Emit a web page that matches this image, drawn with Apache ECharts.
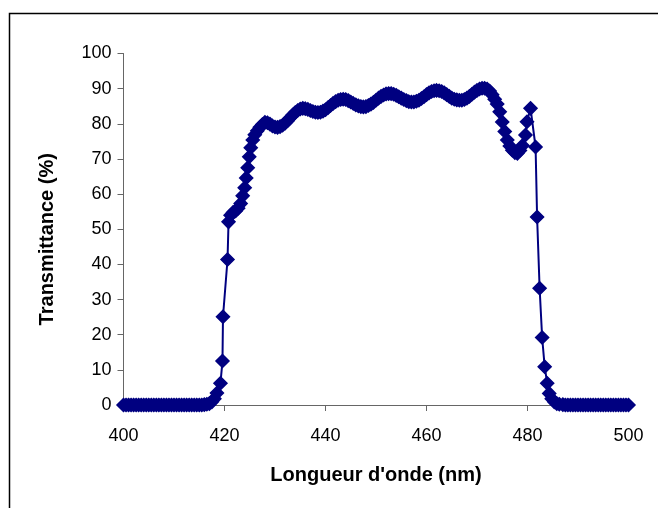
<!DOCTYPE html>
<html>
<head>
<meta charset="utf-8">
<script src="https://cdn.jsdelivr.net/npm/echarts@6/dist/echarts.min.js"></script>
<style>
  html, body { margin: 0; padding: 0; background: #fff; }
  #spectre { width: 658px; height: 508px; }
</style>
</head>
<body>
<div id="spectre"></div>
<script>
// longueur d'onde (nm)
var wavelengths = [
  400, 400.5, 401, 401.5, 402, 402.5, 403, 403.5, 404, 404.5,
  405, 405.5, 406, 406.5, 407, 407.5, 408, 408.5, 409, 409.5,
  410, 410.5, 411, 411.5, 412, 412.5, 413, 413.5, 414, 414.5,
  415, 415.5, 416,
  416.5, 417, 417.5, 418, 418.5, 419.2, 419.6, 419.7, 420.6, 420.8,
  421.2, 421.7, 422.2, 422.7, 423.2, 423.6, 424.0, 424.3, 424.6, 424.9,
  425.2, 425.6, 426.0, 426.5, 427.0, 427.5,
  428, 428.5, 429, 429.5, 430, 430.5, 431, 431.5, 432, 432.5,
  433, 433.5, 434, 434.5, 435, 435.5, 436, 436.5, 437, 437.5,
  438, 438.5, 439, 439.5, 440, 440.5, 441, 441.5, 442, 442.5,
  443, 443.5, 444, 444.5, 445, 445.5, 446, 446.5, 447, 447.5,
  448, 448.5, 449, 449.5, 450, 450.5, 451, 451.5, 452, 452.5,
  453, 453.5, 454, 454.5, 455, 455.5, 456, 456.5, 457, 457.5,
  458, 458.5, 459, 459.5, 460, 460.5, 461, 461.5, 462, 462.5,
  463, 463.5, 464, 464.5, 465, 465.5, 466, 466.5, 467, 467.5,
  468, 468.5, 469, 469.5, 470, 470.5, 471, 471.5, 472, 472.5,
  473, 473.5, 474, 474.5, 475, 475.5, 476, 476.5, 477, 477.5,
  478, 478.5, 479,
  479.6, 479.9, 480.6, 481.6, 481.9, 482.4, 482.9, 483.4, 483.9, 484.3,
  484.8, 485.3, 485.8, 486.3,
  487, 487.5, 488, 488.5, 489, 489.5, 490, 490.5, 491, 491.5,
  492, 492.5, 493, 493.5, 494, 494.5, 495, 495.5, 496, 496.5,
  497, 497.5, 498, 498.5, 499, 499.5, 500
];

// transmittance (%)
var transmittance = [
  0, 0, 0, 0, 0, 0, 0, 0, 0, 0,
  0, 0, 0, 0, 0, 0, 0, 0, 0, 0,
  0, 0, 0, 0, 0, 0, 0, 0, 0, 0,
  0, 0, 0.1,
  0.2, 0.4, 0.9, 1.8, 3.4, 6.2, 12.5, 25.1, 41.4, 52.1,
  54.0, 54.8, 55.2, 56.0, 57.3, 59.5, 61.8, 64.6, 67.5, 70.6,
  73.2, 75.4, 76.9, 78.0, 79.0, 79.8,
  80.4, 80.3, 79.9, 79.4, 79.1, 79.0, 79.2, 79.6, 80.2, 80.9,
  81.7, 82.5, 83.2, 83.8, 84.2, 84.4, 84.3, 84.1, 83.8, 83.5,
  83.3, 83.2, 83.3, 83.6, 84.0, 84.6, 85.2, 85.8, 86.3, 86.7,
  86.9, 87.0, 86.9, 86.6, 86.2, 85.8, 85.4, 85.1, 84.9, 84.8,
  84.9, 85.2, 85.6, 86.1, 86.7, 87.3, 87.8, 88.2, 88.5, 88.6,
  88.6, 88.4, 88.1, 87.7, 87.3, 86.9, 86.6, 86.3, 86.2, 86.2,
  86.4, 86.7, 87.2, 87.7, 88.3, 88.8, 89.2, 89.4, 89.5, 89.4,
  89.2, 88.8, 88.3, 87.8, 87.3, 87.0, 86.8, 86.7, 86.7, 86.9,
  87.3, 87.8, 88.4, 89.0, 89.5, 89.9, 90.1, 90.1, 89.9, 89.3,
  88.3, 87.0, 85.6, 83.4, 80.5, 77.8, 75.4, 73.7, 72.5, 71.8,
  71.6, 72.4, 73.8,
  76.8, 80.6, 84.4, 73.4, 53.5, 33.2, 19.2, 10.9, 6.2, 3.3,
  1.8, 0.9, 0.4, 0.2,
  0.1, 0, 0, 0, 0, 0, 0, 0, 0, 0,
  0, 0, 0, 0, 0, 0, 0, 0, 0, 0,
  0, 0, 0, 0, 0, 0, 0
];

var xTicks = [400, 420, 440, 460, 480, 500];
var yTicks = [0, 10, 20, 30, 40, 50, 60, 70, 80, 90, 100];

function initEcharts() {
    var myChart = echarts.init(document.getElementById('spectre'), null, { renderer: 'canvas' });

    var points = [];
    for (let i = 0; i < wavelengths.length; i++) {
        points.push([wavelengths[i], transmittance[i]]);
    }

    var labelFont = {
        fontSize: 18,
        color: '#000',
        fontFamily: 'Liberation Sans, Arial, sans-serif'
    };

    var option = {
        backgroundColor: '#fff',
        animation: false,
        // cadre extérieur (coupé à droite et en bas)
        graphic: [{
            type: 'rect',
            shape: { x: 9.5, y: 13.5, width: 720, height: 600 },
            style: { fill: 'none', stroke: '#000', lineWidth: 1.5 },
            silent: true
        }],
        grid: {
            left: 123.5,
            right: 29.5,
            top: 53.5,
            bottom: 103
        },
        xAxis: {
            type: 'value',
            min: xTicks[0],
            max: xTicks[xTicks.length - 1],
            interval: 20,
            name: "Longueur d'onde (nm)",
            nameLocation: 'middle',
            nameGap: 60,
            nameTextStyle: {
                fontSize: 20,
                fontWeight: 'bold',
                color: '#000',
                fontFamily: 'Liberation Sans, Arial, sans-serif'
            },
            axisLine: { lineStyle: { color: '#666', width: 1 } },
            axisTick: { show: true, inside: false, length: 6, lineStyle: { color: '#666' } },
            axisLabel: Object.assign({ margin: 22 }, labelFont),
            splitLine: { show: false }
        },
        yAxis: {
            type: 'value',
            min: yTicks[0],
            max: yTicks[yTicks.length - 1],
            interval: 10,
            name: 'Transmittance (%)',
            nameLocation: 'middle',
            nameGap: 66,
            nameTextStyle: {
                fontSize: 20,
                fontWeight: 'bold',
                color: '#000',
                fontFamily: 'Liberation Sans, Arial, sans-serif',
                padding: [0, 20, 0, 0]
            },
            axisLine: { show: true, lineStyle: { color: '#666', width: 1 } },
            axisTick: { show: true, inside: false, length: 6, lineStyle: { color: '#666' } },
            axisLabel: Object.assign({ margin: 12 }, labelFont),
            splitLine: { show: false }
        },
        series: [{
            type: 'line',
            data: points,
            symbol: 'diamond',
            symbolSize: 13,
            showAllSymbol: true,
            lineStyle: { color: '#000080', width: 2 },
            itemStyle: { color: '#000080', borderColor: '#000080', borderWidth: 1.5 },
            z: 3
        }]
    };

    myChart.setOption(option);
}

initEcharts();
</script>
</body>
</html>
